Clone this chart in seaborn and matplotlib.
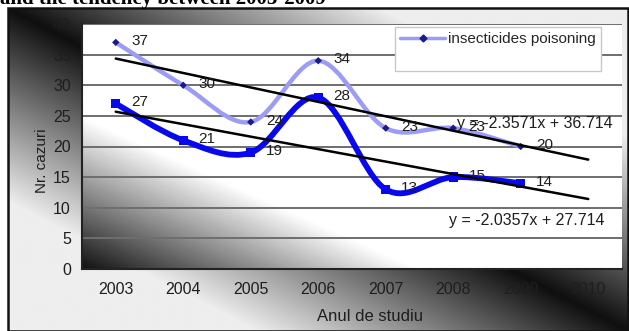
import numpy as np
import matplotlib
matplotlib.use("Agg")
import matplotlib.pyplot as plt
from matplotlib.path import Path
from matplotlib.patches import PathPatch, Rectangle
from matplotlib.lines import Line2D
import seaborn as sns

# ---- data ----
years = ["2003", "2004", "2005", "2006", "2007", "2008", "2009", "2010"]
insecticides = [37, 30, 24, 34, 23, 23, 20]
second_series = [27, 21, 19, 28, 13, 15, 14]
y_ticks = [0, 5, 10, 15, 20, 25, 30, 35, 40]
caption = "and the tendency between 2003-2009"

sns.set_style("white")
plt.rcParams["font.family"] = ["Liberation Sans", "DejaVu Sans"]

W, H = 629, 331
fig = plt.figure(figsize=(W / 100, H / 100), dpi=100)
fig.patch.set_facecolor("white")

def fig_box(x0, y0, x1, y1):
    """pixel box (top-left origin) -> figure fraction rect"""
    return [x0 / W, 1 - y1 / H, (x1 - x0) / W, (y1 - y0) / H]

# ---- chart area background: dark band along the main diagonal ----
fx0, fy0, fx1, fy1 = 8, 8, 628, 331
bg = fig.add_axes(fig_box(fx0, fy0, fx1, fy1), zorder=0)
gh, gw = 200, 400
uu, ww = np.meshgrid(np.linspace(0, 1, gw), np.linspace(0, 1, gh))
shade = np.clip(0.06 + 1.45 * np.abs(uu - ww), 0, 0.93)
bg.imshow(shade, cmap="gray", vmin=0, vmax=1, aspect="auto",
          extent=[0, 1, 0, 1], origin="upper", interpolation="bilinear")
bg.set_axis_off()
fig.add_artist(Rectangle((fx0 / W, 0), (fx1 - fx0) / W, 1 - fy0 / H,
                         transform=fig.transFigure, fill=False,
                         edgecolor="#111111", linewidth=1.8, zorder=1))

# ---- plot area ----
px0, py0, px1, py1 = 82, 24, 622, 269
pa = fig.add_axes(fig_box(px0, py0, px1, py1), zorder=1)
pp, qq = np.meshgrid(np.linspace(0, 1, gw), np.linspace(1, 0, gh))
pshade = np.clip(0.07 + 1.5 * (pp + qq), 0, 1)
pa.imshow(pshade, cmap="gray", vmin=0, vmax=1, aspect="auto",
          extent=[0, 1, 0, 1], origin="upper", interpolation="bilinear")
pa.set_axis_off()

ax = fig.add_axes(fig_box(px0, py0, px1, py1), zorder=2)
ax.patch.set_alpha(0)

idx = np.arange(len(insecticides))
light_col = "#9c9cf4"
dark_col = "#0808ee"

def smooth_path(xs, ys):
    """Catmull-Rom style Bezier path through the points"""
    pts = np.column_stack([xs, ys]).astype(float)
    ext = np.vstack([pts[0], pts, pts[-1]])
    verts = [tuple(pts[0])]
    codes = [Path.MOVETO]
    for i in range(len(pts) - 1):
        p0, p1, p2, p3 = ext[i], ext[i + 1], ext[i + 2], ext[i + 3]
        c1 = p1 + (p2 - p0) / 6.0
        c2 = p2 - (p3 - p1) / 6.0
        verts += [tuple(c1), tuple(c2), tuple(p2)]
        codes += [Path.CURVE4] * 3
    return Path(verts, codes)

ax.add_patch(PathPatch(smooth_path(idx, insecticides), fill=False,
                       edgecolor=light_col, linewidth=3.2, zorder=3,
                       capstyle="round", joinstyle="round"))
sns.scatterplot(x=idx, y=insecticides, marker="D", s=14, color="#1a1a8c",
                edgecolor="none", ax=ax, zorder=4, legend=False)

ax.add_patch(PathPatch(smooth_path(idx, second_series), fill=False,
                       edgecolor=dark_col, linewidth=4.2, zorder=5,
                       capstyle="round", joinstyle="round"))
sns.scatterplot(x=idx, y=second_series, marker="s", s=45, color=dark_col,
                edgecolor="none", ax=ax, zorder=6, legend=False)

# linear trends (x = 1..7), extended one period forward
xfit = idx + 1
trend_x = np.array([0, len(years) - 1])
eqs = []
for vals in (insecticides, second_series):
    m, b = np.polyfit(xfit, vals, 1)
    sns.lineplot(x=trend_x, y=m * (trend_x + 1) + b, color="black",
                 linewidth=1.8, ax=ax, zorder=7)
    eqs.append((m, b))

# value labels
for vals in (insecticides, second_series):
    for x, v in zip(idx, vals):
        ax.annotate(str(v), (x, v), xytext=(11, 1), textcoords="offset points",
                    ha="left", va="center", fontsize=11, color="#1e1e1e",
                    zorder=8)

# trend equations
ax.text(0.695, 0.595, f"y = {eqs[0][0]:.4f}x + {eqs[0][1]:.3f}",
        transform=ax.transAxes, fontsize=11.5, color="#1e1e1e",
        ha="left", va="center", zorder=9)
ax.text(0.68, 0.2, f"y = {eqs[1][0]:.4f}x + {eqs[1][1]:.3f}",
        transform=ax.transAxes, fontsize=11.5, color="#1e1e1e",
        ha="left", va="center", zorder=9)

# axes
ax.set_xlim(-0.5, len(years) - 0.5)
ax.set_ylim(0, 40)
ax.set_yticks(y_ticks)
ax.set_yticklabels([str(t) for t in y_ticks], fontsize=11.5, color="#1e1e1e")
ax.set_xticks(np.arange(len(years) + 1) - 0.5)
ax.set_xticklabels([])
ax.set_xticks(np.arange(len(years)), minor=True)
ax.set_xticklabels(years, minor=True, fontsize=11.5, color="#1e1e1e")
ax.tick_params(axis="x", which="major", direction="out", length=4,
               width=1.2, color="#222222")
ax.tick_params(axis="x", which="minor", length=0, pad=9)
ax.tick_params(axis="y", direction="out", length=5, width=1.2,
               color="#222222", pad=3)
ax.grid(axis="y", color="#6e6e6e", linewidth=1.4, zorder=1)
ax.grid(axis="x", visible=False)
for s in ("top", "right"):
    ax.spines[s].set_visible(False)
for s in ("left", "bottom"):
    ax.spines[s].set_color("#222222")
    ax.spines[s].set_linewidth(1.5)

ax.set_xlabel("Anul de studiu", fontsize=12, color="#1e1e1e")
ax.xaxis.set_label_coords(0.533, -0.165)
ax.set_ylabel("Nr. cazuri", fontsize=11, color="#1e1e1e")
ax.yaxis.set_label_coords(-0.062, 0.44)

# legend
handles = [Line2D([], [], color=light_col, linewidth=2.5, marker="D",
                  markersize=3.5, markerfacecolor="#1a1a8c",
                  markeredgecolor="#1a1a8c"),
           Line2D([], [], color="none")]
leg = ax.legend(handles, ["insecticides poisoning", " "],
                loc="upper left", bbox_to_anchor=(395 / W, 1 - 27 / H),
                bbox_transform=fig.transFigure, fontsize=11, frameon=True,
                fancybox=False, handlelength=2.9, handletextpad=0.2,
                borderpad=0.35, labelspacing=0.35, borderaxespad=0)
leg.get_frame().set_facecolor("white")
leg.get_frame().set_edgecolor("#c8c8c8")
leg.get_frame().set_alpha(1)
leg.set_zorder(10)

# caption line above the chart
fig.text(0.0, 1 - 4 / H, caption, fontsize=15, fontweight="bold",
         family=["Liberation Serif", "DejaVu Serif"], ha="left",
         va="baseline", color="black")

fig.savefig("out.png", dpi=100)
